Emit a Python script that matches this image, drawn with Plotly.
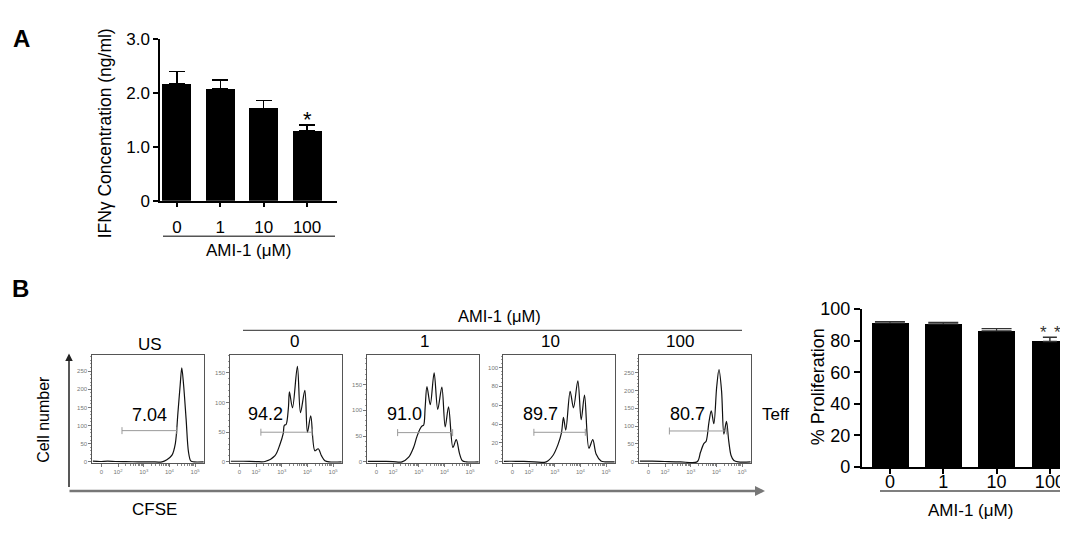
import math
import plotly.graph_objects as go

W, H = 1068, 518
OFF = 8  # page body margin in the browser
FONT = "Liberation Sans, Arial, sans-serif"

# ---------------- data ----------------
conc_labels = ["0", "1", "10", "100"]

ifng_mean = [2.17, 2.07, 1.71, 1.30]
ifng_err = [0.23, 0.17, 0.15, 0.11]
ifng_ticks = [0, 1.0, 2.0, 3.0]
ifng_ticktext = ["0", "1.0", "2.0", "3.0"]

prolif_mean = [91.2, 90.6, 86.2, 79.5]
prolif_err = [0.9, 0.9, 1.4, 2.7]
prolif_ticks = [0, 20, 40, 60, 80, 100]

hist_titles = ["US", "0", "1", "10", "100"]
cfse_tickvals = [1.35, 2, 3, 4, 5]
cfse_ticktext = ["0", "10<sup>2</sup>", "10<sup>3</sup>", "10<sup>4</sup>", "10<sup>5</sup>"]

# CFSE histograms: x in log-decade display units, y = cell count
us_x = [1.02, 1.3, 1.6, 1.9, 2.3, 2.8, 3.3, 3.71, 3.90, 4.10, 4.23, 4.33, 4.42, 4.48, 4.55, 4.65, 4.74, 4.83, 4.95, 5.33]
us_y = [2, 1, 2, 1, 0.5, 0, 0, 0, 6, 18.6, 50.5, 134.6, 213, 259, 213, 117, 28, 2.7, 0, 0]

a0_x = [1.02, 1.5, 2.0, 2.35, 2.74, 2.93, 3.06, 3.10, 3.17, 3.26, 3.30, 3.42, 3.61, 3.73, 3.90, 4.00, 4.13, 4.29, 4.42, 4.55, 4.68, 4.85, 5.33]
a0_y = [1, 1, 0.5, 0.6, 10.6, 29.4, 48, 61.6, 63, 91, 118, 91, 161, 83, 120.6, 49.8, 77.7, 18.7, 22, 10, 2, 0, 0]

a1_x = [1.02, 1.5, 2.0, 2.35, 2.61, 2.80, 2.93, 3.06, 3.13, 3.19, 3.25, 3.32, 3.45, 3.60, 3.74, 3.90, 4.03, 4.16, 4.33, 4.46, 4.59, 4.70, 4.85, 5.33]
a1_y = [1, 1, 0.5, 0, 9, 27.8, 49, 64.8, 69.7, 71, 104.8, 146, 111, 172.8, 101.8, 145, 67.8, 106.7, 27.8, 43, 15.4, 2, 0, 0]

a10_x = [1.02, 1.5, 2.0, 2.67, 2.93, 3.13, 3.26, 3.34, 3.43, 3.60, 3.73, 3.90, 4.03, 4.16, 4.33, 4.48, 4.61, 4.80, 4.95, 5.33]
a10_y = [0.6, 0.6, 0.3, 0, 6.7, 18.5, 30.3, 47, 33.6, 74.7, 57.2, 85.9, 44.7, 70.7, 14.4, 23.5, 8.4, 1, 0, 0]

a100_x = [1.02, 1.5, 2.0, 2.6, 3.25, 3.38, 3.51, 3.60, 3.71, 3.80, 3.90, 4.01, 4.10, 4.20, 4.29, 4.39, 4.48, 4.57, 4.68, 4.85, 5.33]
a100_y = [2, 2, 1, 0, 0, 26.8, 50.9, 58, 111.5, 142.8, 107, 209.8, 258.8, 199, 77.7, 113.3, 58, 17.8, 3.6, 0, 0]

hist_x = [us_x, a0_x, a1_x, a10_x, a100_x]
hist_y = [us_y, a0_y, a1_y, a10_y, a100_y]

hist_yticks = [[0, 50, 100, 150, 200, 250], [0, 50, 100, 150], [0, 50, 100, 150],
               [0, 20, 40, 60, 80, 100], [0, 50, 100, 150, 200, 250]]

gate_lo = [2.155, 2.19, 2.18, 2.19, 2.17]
gate_hi = [4.29, 4.18, 4.32, 4.19, 4.40]
gate_level = [86, 50, 56.7, 31.3, 86.5]
pct_labels = ["7.04", "94.2", "91.0", "89.7", "80.7"]
pct_x = [3.22, 2.35, 2.45, 2.45, 2.86]
pct_y = [130, 80, 92.6, 50.5, 134]

# ---------------- layout helpers (screen pixel -> paper fraction) ----------------
def fx(p):
    return (p - OFF) / W

def fy(p):
    return 1 - (p - OFF) / H

box_left = [92.3, 230.3, 367.3, 503.3, 639.3]
box_w = 111.7
box_top, box_bot = 358.7, 471.0
box_ymax = [294, 180, 207, 113, 299]
title_pos = [(150, 348), (294, 345), (424, 345), (550, 345), (680, 345)]

minor_log = [math.log10(k) + n for n in (2, 3, 4) for k in range(2, 10)]

fig = go.Figure()

# ---------- Panel A ----------
fig.add_trace(go.Bar(
    x=conc_labels, y=ifng_mean, width=0.67, marker=dict(color="black", line=dict(width=0)),
    error_y=dict(type="data", array=ifng_err, arrayminus=[0] * len(ifng_err), symmetric=False,
                 width=8, thickness=1.5, color="black"),
    xaxis="x", yaxis="y", showlegend=False))

# ---------- Histograms ----------
for i in range(5):
    ax = str(i + 2)
    fig.add_trace(go.Scatter(
        x=hist_x[i], y=hist_y[i], mode="lines", line=dict(color="#111", width=1.2, shape="spline", smoothing=0.9),
        xaxis="x" + ax, yaxis="y" + ax, showlegend=False, hoverinfo="skip"))
    fig.add_trace(go.Scatter(
        x=[gate_lo[i], gate_hi[i]], y=[gate_level[i], gate_level[i]], mode="lines+markers",
        line=dict(color="#9a9a9a", width=1),
        marker=dict(symbol="line-ns", size=5, line=dict(width=1, color="#9a9a9a")),
        xaxis="x" + ax, yaxis="y" + ax, showlegend=False, hoverinfo="skip"))

# ---------- Panel B bar chart ----------
fig.add_trace(go.Bar(
    x=conc_labels, y=prolif_mean, width=0.69, marker=dict(color="black", line=dict(width=0)),
    xaxis="x7", yaxis="y7", showlegend=False))
fig.add_trace(go.Scatter(
    x=conc_labels[:3], y=prolif_mean[:3], mode="markers", marker=dict(size=0.1, color="black"),
    error_y=dict(type="data", array=prolif_err[:3], arrayminus=[0] * 3, symmetric=False,
                 width=15, thickness=1.2, color="#333"),
    xaxis="x7", yaxis="y7", showlegend=False, hoverinfo="skip"))
fig.add_trace(go.Scatter(
    x=conc_labels[3:], y=prolif_mean[3:], mode="markers", marker=dict(size=0.1, color="black"),
    error_y=dict(type="data", array=prolif_err[3:], arrayminus=[0], symmetric=False,
                 width=7, thickness=1.5, color="#333"),
    xaxis="x7", yaxis="y7", showlegend=False, hoverinfo="skip"))

layout = dict(
    width=W, height=H, margin=dict(l=0, r=0, t=0, b=0),
    paper_bgcolor="white", plot_bgcolor="white",
    font=dict(family=FONT, color="black"),
    bargap=0,
    xaxis=dict(domain=[fx(160), fx(337)], range=[-0.39, 3.69], type="category",
               showline=True, linecolor="black", linewidth=1.5, ticks="outside", ticklen=5,
               tickcolor="black", tickwidth=1.5, tickfont=dict(size=17), showgrid=False, zeroline=False,
               ticklabelstandoff=5, anchor="y"),
    yaxis=dict(domain=[fy(198), fy(30)], range=[0, 3.0], tickvals=ifng_ticks, ticktext=ifng_ticktext,
               showline=True, linecolor="black", linewidth=1.5, ticks="outside", ticklen=5,
               tickcolor="black", tickwidth=1.5, tickfont=dict(size=17), showgrid=False, zeroline=False,
               anchor="x"),
    xaxis7=dict(domain=[fx(861.7), fx(1068)], range=[-0.53, 3.34], type="category",
                showline=True, linecolor="black", linewidth=1.5, ticks="outside", ticklen=5,
                tickcolor="black", tickwidth=1.5, tickfont=dict(size=18), showgrid=False, zeroline=False,
                ticklabelstandoff=-7, anchor="y7"),
    yaxis7=dict(domain=[fy(475), fy(310.7)], range=[0, 100], tickvals=prolif_ticks,
                showline=True, linecolor="black", linewidth=1.5, ticks="outside", ticklen=6,
                tickcolor="black", tickwidth=1.5, tickfont=dict(size=18), showgrid=False, zeroline=False,
                anchor="x7"),
)

for i in range(5):
    ax = str(i + 2)
    ymax = box_ymax[i]
    step = hist_yticks[i][1] - hist_yticks[i][0]
    layout["xaxis" + ax] = dict(
        domain=[fx(box_left[i]), fx(box_left[i] + box_w)], range=[1.0, 5.345],
        showline=True, mirror=True, linecolor="#555", linewidth=1, ticks="outside", ticklen=3,
        tickcolor="#777", tickvals=cfse_tickvals, ticktext=cfse_ticktext,
        tickfont=dict(size=6, color="#777"), showgrid=False, zeroline=False, anchor="y" + ax,
        minor=dict(tickvals=minor_log, ticks="outside", ticklen=2, tickcolor="#888"))
    layout["yaxis" + ax] = dict(
        domain=[fy(box_bot), fy(box_top)], range=[-0.012 * ymax, ymax],
        showline=True, mirror=True, linecolor="#555", linewidth=1, ticks="outside", ticklen=3,
        tickcolor="#777", tickvals=hist_yticks[i], tickfont=dict(size=6, color="#777"),
        showgrid=False, zeroline=False, anchor="x" + ax,
        minor=dict(dtick=step / 5, ticks="outside", ticklen=1.5, tickcolor="#999"))

fig.update_layout(**layout)

ann = []

def text(x, y, s, size, **kw):
    d = dict(x=fx(x), y=fy(y), xref="paper", yref="paper", text=s, showarrow=False,
             font=dict(size=size, family=FONT, color="black"), xanchor="center", yanchor="middle")
    d.update(kw)
    ann.append(d)

# panel labels
text(21, 29, "<b>A</b>", 24)
text(20, 289, "<b>B</b>", 24)

# panel A titles
text(105, 128, "IFNγ Concentration (ng/ml)", 17.5, textangle=-90)
text(248, 250, "AMI-1 (μM)", 17)
ann.append(dict(x=3, y=ifng_mean[3] + ifng_err[3], xref="x", yref="y", text="*",
                showarrow=False, font=dict(size=22, family=FONT, color="black"),
                yanchor="bottom", yshift=-9))

# panel B flow titles
text(499, 318, "AMI-1 (μM)", 16.5)
for i in range(5):
    text(title_pos[i][0], title_pos[i][1], hist_titles[i], 17)
text(760, 420, "Teff", 17, xanchor="left")
text(154, 519, "CFSE", 17)
text(44, 426, "Cell number", 16, textangle=-90)

for i in range(5):
    ax = str(i + 2)
    ann.append(dict(x=pct_x[i], y=pct_y[i], xref="x" + ax, yref="y" + ax, text=pct_labels[i],
                    showarrow=False, font=dict(size=18, family=FONT, color="black"),
                    xanchor="center", yanchor="middle"))

# arrows of flow axes
ann.append(dict(x=fx(69), y=fy(357), xref="paper", yref="paper", ax=0, ay=135, axref="pixel", ayref="pixel",
                showarrow=True, arrowhead=2, arrowsize=1, arrowwidth=1.5, arrowcolor="#222", text=""))
ann.append(dict(x=fx(765), y=fy(500), xref="paper", yref="paper", ax=-697, ay=0, axref="pixel", ayref="pixel",
                showarrow=True, arrowhead=2, arrowsize=0.8, arrowwidth=2.5, arrowcolor="#777", text=""))

# panel B bar chart titles
text(818, 392, "% Proliferation", 18, textangle=-90)
text(970, 520, "AMI-1 (μM)", 17)
for dx in (-6, 8):
    ann.append(dict(x=3, y=prolif_mean[3] + prolif_err[3], xref="x7", yref="y7", text="*",
                    showarrow=False, font=dict(size=17, family=FONT, color="#333"), yanchor="bottom",
                    yshift=-7, xshift=dx))

fig.update_layout(annotations=ann)

shapes = [
    dict(type="line", xref="paper", yref="paper", x0=fx(163), x1=fx(335), y0=fy(235), y1=fy(235),
         line=dict(color="#555", width=1.3)),
    dict(type="line", xref="paper", yref="paper", x0=fx(243), x1=fx(742), y0=fy(333), y1=fy(333),
         line=dict(color="#555", width=1.3)),
    dict(type="line", xref="paper", yref="paper", x0=fx(880), x1=fx(1068), y0=fy(500), y1=fy(500),
         line=dict(color="#555", width=1.3)),
]
fig.update_layout(shapes=shapes)

fig.write_html("out.html")
